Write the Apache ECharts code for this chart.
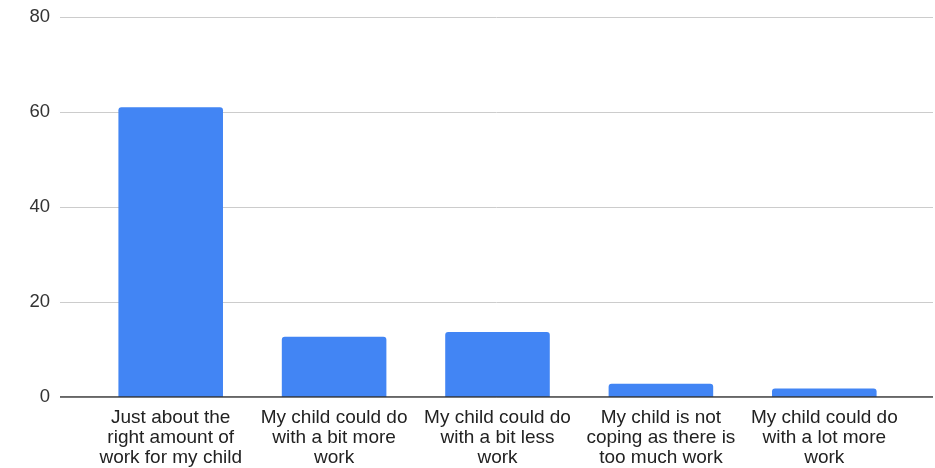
<!DOCTYPE html>
<html>
<head>
<meta charset="utf-8">
<script src="https://cdn.jsdelivr.net/npm/echarts@6/dist/echarts.min.js"></script>
<style>html,body{margin:0;padding:0;background:#fff}#c{width:935px;height:468px}</style>
</head>
<body>
<div id="c"></div>
<script>
const categories = [
  "Just about the\nright amount of\nwork for my child",
  "My child could do\nwith a bit more\nwork",
  "My child could do\nwith a bit less\nwork",
  "My child is not\ncoping as there is\ntoo much work",
  "My child could do\nwith a lot more\nwork"
];
const values = [61, 12.7, 13.7, 2.8, 1.8];
const yTicks = [0, 20, 40, 60, 80];

const chart = echarts.init(document.getElementById('c'), null, {renderer: 'canvas'});
const font = 'Arial, "Liberation Sans", sans-serif';
chart.setOption({
  animation: false,
  grid: [
    {left: 60, right: 2, top: 17, bottom: 71, containLabel: false},
    {left: 89, right: 29, top: 17, bottom: 71, containLabel: false}
  ],
  xAxis: [
    {gridIndex: 0, type: 'value', min: 0, max: 1, show: false},
    {gridIndex: 1, type: 'category', data: categories,
     axisLine: {show: false}, axisTick: {show: false},
     axisLabel: {interval: 0, color: '#222', fontSize: 19, fontFamily: font, lineHeight: 20, margin: 11, align: 'center'}}
  ],
  yAxis: [
    {gridIndex: 0, type: 'value', min: yTicks[0], max: yTicks[yTicks.length-1], interval: 20,
     axisLine: {show: false}, axisTick: {show: false},
     axisLabel: {color: '#333', fontSize: 18.5, fontFamily: font, margin: 10, padding: [4, 0, 0, 0]},
     splitLine: {lineStyle: {color: '#ccc', width: 1}}},
    {gridIndex: 1, type: 'value', min: 0, max: 80, interval: 20, show: false, splitLine: {show: false}}
  ],
  series: [
    {type: 'line', xAxisIndex: 0, yAxisIndex: 0, data: [[0,0],[1,0]], symbol: 'none',
     lineStyle: {color: '#333', width: 1.5}, silent: true, z: 5},
    {type: 'bar', xAxisIndex: 1, yAxisIndex: 1, data: values, barWidth: '64%',
     itemStyle: {color: '#4285F4', borderRadius: [3,3,0,0]}, z: 3}
  ]
});
</script>
</body>
</html>
